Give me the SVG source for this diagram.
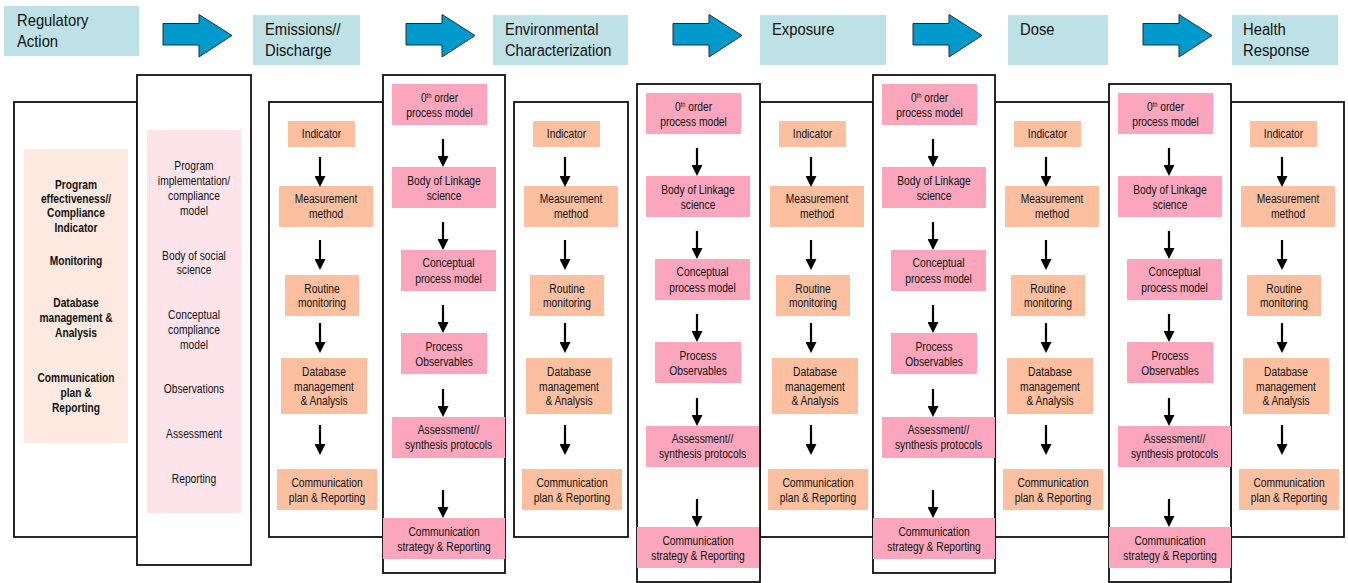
<svg xmlns="http://www.w3.org/2000/svg" width="1348" height="583" viewBox="0 0 1348 583">
  <style>
    text { font-family: "Liberation Sans", Arial, sans-serif; fill: #111; }
    .hdr { fill: #bde1e4; }
    .hdr-t { font-size: 17px; }
    .frame { fill: #fff; stroke: #111; stroke-width: 1.8; }
    .ind { fill: #fcbf9f; }
    .mod { fill: #fba6bc; }
    .soft-peach { fill: #fde9e0; }
    .soft-pink { fill: #fde4eb; }
    .t { font-size: 12.5px; text-anchor: middle; }
    .tb { font-size: 12px; font-weight: bold; text-anchor: middle; }
    .sup { font-size: 7px; }
    .blk { fill: #0099cc; stroke: #16323c; stroke-width: 1; }
    .arr { stroke: #000; stroke-width: 2.2; fill: none; marker-end: url(#ah); }
  </style>
  <defs>
    <marker id="ah" markerUnits="userSpaceOnUse" markerWidth="11" markerHeight="11" viewBox="0 0 11 11" refX="5" refY="5.5" orient="auto">
      <path d="M0,0 L11,5.5 L0,11 z" fill="#000"/>
    </marker>
    <!-- block arrow of the top flow row -->
    <polygon id="flow" class="blk" points="0,8.5 36,8.5 36,-0.5 69,20.5 36,42 36,30 0,30"/>

    <!-- node label sets, condensed horizontally to an Arial Narrow look -->
    <g id="lbl-indicator"><g transform="translate(52.5,0) scale(0.82,1)"><text class="t" x="0" y="138.5">Indicator</text></g></g>
    <g id="lbl-measurement"><g transform="translate(57,0) scale(0.82,1)"><text class="t" x="0" y="203.5">Measurement</text><text class="t" x="0" y="218.5">method</text></g></g>
    <g id="lbl-routine"><g transform="translate(53,0) scale(0.82,1)"><text class="t" x="0" y="293.5">Routine</text><text class="t" x="0" y="307.5">monitoring</text></g></g>
    <g id="lbl-database"><g transform="translate(55,0) scale(0.82,1)"><text class="t" x="0" y="376.5">Database</text><text class="t" x="0" y="391.5">management</text><text class="t" x="0" y="405.5">&amp; Analysis</text></g></g>
    <g id="lbl-commplan"><g transform="translate(58,0) scale(0.82,1)"><text class="t" x="0" y="487.5">Communication</text><text class="t" x="0" y="502.5">plan &amp; Reporting</text></g></g>

    <g id="lbl-zero"><g transform="translate(56.5,0) scale(0.82,1)"><text class="t" x="0" y="102.5">0<tspan class="sup" dy="-4">th</tspan><tspan dy="4"> order</tspan></text><text class="t" x="0" y="117.5">process model</text></g></g>
    <g id="lbl-linkage"><g transform="translate(61,0) scale(0.82,1)"><text class="t" x="0" y="185.5">Body of Linkage</text><text class="t" x="0" y="200.5">science</text></g></g>
    <g id="lbl-conceptual"><g transform="translate(65.5,0) scale(0.82,1)"><text class="t" x="0" y="267.5">Conceptual</text><text class="t" x="0" y="283.5">process model</text></g></g>
    <g id="lbl-observables"><g transform="translate(61,0) scale(0.82,1)"><text class="t" x="0" y="351.5">Process</text><text class="t" x="0" y="366.5">Observables</text></g></g>
    <g id="lbl-assessment"><g transform="translate(65.5,0) scale(0.82,1)"><text class="t" x="0" y="434.5">Assessment//</text><text class="t" x="0" y="449.5">synthesis protocols</text></g></g>
    <g id="lbl-commstrat"><g transform="translate(61,0) scale(0.82,1)"><text class="t" x="0" y="536.5">Communication</text><text class="t" x="0" y="551.5">strategy &amp; Reporting</text></g></g>
  </defs>

  <rect width="1348" height="583" fill="#fff"/>

  <!-- stage headers -->
  <g id="hdr-regulatory">
    <rect class="hdr" x="4" y="6" width="135" height="50"/>
    <g transform="translate(17,0) scale(0.87,1)"><text class="hdr-t" x="0" y="26">Regulatory</text><text class="hdr-t" x="0" y="47">Action</text></g>
  </g>
  <g id="hdr-emissions">
    <rect class="hdr" x="253" y="15" width="107" height="50"/>
    <g transform="translate(265,0) scale(0.87,1)"><text class="hdr-t" x="0" y="35">Emissions//</text><text class="hdr-t" x="0" y="56">Discharge</text></g>
  </g>
  <g id="hdr-environmental">
    <rect class="hdr" x="493" y="15" width="135" height="50"/>
    <g transform="translate(505,0) scale(0.86,1)"><text class="hdr-t" x="0" y="35">Environmental</text><text class="hdr-t" x="0" y="56">Characterization</text></g>
  </g>
  <g id="hdr-exposure">
    <rect class="hdr" x="760" y="15" width="126" height="50"/>
    <g transform="translate(772,0) scale(0.87,1)"><text class="hdr-t" x="0" y="35">Exposure</text></g>
  </g>
  <g id="hdr-dose">
    <rect class="hdr" x="1008" y="15" width="100" height="50"/>
    <g transform="translate(1020,0) scale(0.87,1)"><text class="hdr-t" x="0" y="35">Dose</text></g>
  </g>
  <g id="hdr-health">
    <rect class="hdr" x="1232" y="15" width="106" height="50"/>
    <g transform="translate(1243,0) scale(0.87,1)"><text class="hdr-t" x="0" y="35">Health</text><text class="hdr-t" x="0" y="56">Response</text></g>
  </g>

  <!-- regulatory program panels -->
  <g id="reg-effectiveness">
    <rect class="frame" x="14" y="102" width="123" height="435"/>
    <rect class="soft-peach" x="24" y="149" width="104" height="294"/>
    <g transform="translate(76,0) scale(0.85,1)">
      <text class="tb" x="0" y="189">Program</text>
      <text class="tb" x="0" y="203">effectiveness//</text>
      <text class="tb" x="0" y="217.5">Compliance</text>
      <text class="tb" x="0" y="232">Indicator</text>
      <text class="tb" x="0" y="265.5">Monitoring</text>
      <text class="tb" x="0" y="307.5">Database</text>
      <text class="tb" x="0" y="322.5">management &amp;</text>
      <text class="tb" x="0" y="337.5">Analysis</text>
      <text class="tb" x="0" y="382">Communication</text>
      <text class="tb" x="0" y="397">plan &amp;</text>
      <text class="tb" x="0" y="412">Reporting</text>
    </g>
  </g>
  <g id="reg-implementation">
    <rect class="frame" x="137" y="75" width="114" height="490"/>
    <rect class="soft-pink" x="147" y="130" width="94" height="383"/>
    <g transform="translate(194,0) scale(0.82,1)">
      <text class="t" x="0" y="170.5">Program</text>
      <text class="t" x="0" y="185">implementation/</text>
      <text class="t" x="0" y="200">compliance</text>
      <text class="t" x="0" y="215">model</text>
      <text class="t" x="0" y="260.5">Body of social</text>
      <text class="t" x="0" y="274.5">science</text>
      <text class="t" x="0" y="319.5">Conceptual</text>
      <text class="t" x="0" y="334.5">compliance</text>
      <text class="t" x="0" y="349.5">model</text>
      <text class="t" x="0" y="393.5">Observations</text>
      <text class="t" x="0" y="438.5">Assessment</text>
      <text class="t" x="0" y="483.5">Reporting</text>
    </g>
  </g>

  <!-- indicator columns, one per stage -->
  <g id="col-emissions" transform="translate(269,0)">
    <rect class="frame" x="0" y="102" width="114" height="435"/>
    <g id="emis-indicator"><rect class="ind" x="19" y="121" width="67" height="26"/><use href="#lbl-indicator"/></g>
    <g id="emis-measurement"><rect class="ind" x="10" y="186" width="94" height="41"/><use href="#lbl-measurement"/></g>
    <g id="emis-routine"><rect class="ind" x="16" y="275" width="74" height="41"/><use href="#lbl-routine"/></g>
    <g id="emis-database"><rect class="ind" x="12" y="358" width="86" height="56"/><use href="#lbl-database"/></g>
    <g id="emis-communication"><rect class="ind" x="8" y="469" width="100" height="41"/><use href="#lbl-commplan"/></g>
  </g>
  <g id="col-environmental" transform="translate(514,0)">
    <rect class="frame" x="0" y="102" width="114" height="435"/>
    <g id="env-indicator"><rect class="ind" x="19" y="121" width="67" height="26"/><use href="#lbl-indicator"/></g>
    <g id="env-measurement"><rect class="ind" x="10" y="186" width="94" height="41"/><use href="#lbl-measurement"/></g>
    <g id="env-routine"><rect class="ind" x="16" y="275" width="74" height="41"/><use href="#lbl-routine"/></g>
    <g id="env-database"><rect class="ind" x="12" y="358" width="86" height="56"/><use href="#lbl-database"/></g>
    <g id="env-communication"><rect class="ind" x="8" y="469" width="100" height="41"/><use href="#lbl-commplan"/></g>
  </g>
  <g id="col-exposure" transform="translate(760,0)">
    <rect class="frame" x="0" y="102" width="113" height="435"/>
    <g id="expo-indicator"><rect class="ind" x="19" y="121" width="67" height="26"/><use href="#lbl-indicator"/></g>
    <g id="expo-measurement"><rect class="ind" x="10" y="186" width="94" height="41"/><use href="#lbl-measurement"/></g>
    <g id="expo-routine"><rect class="ind" x="16" y="275" width="74" height="41"/><use href="#lbl-routine"/></g>
    <g id="expo-database"><rect class="ind" x="12" y="358" width="86" height="56"/><use href="#lbl-database"/></g>
    <g id="expo-communication"><rect class="ind" x="8" y="469" width="100" height="41"/><use href="#lbl-commplan"/></g>
  </g>
  <g id="col-dose" transform="translate(995,0)">
    <rect class="frame" x="0" y="102" width="114" height="435"/>
    <g id="dose-indicator"><rect class="ind" x="19" y="121" width="67" height="26"/><use href="#lbl-indicator"/></g>
    <g id="dose-measurement"><rect class="ind" x="10" y="186" width="94" height="41"/><use href="#lbl-measurement"/></g>
    <g id="dose-routine"><rect class="ind" x="16" y="275" width="74" height="41"/><use href="#lbl-routine"/></g>
    <g id="dose-database"><rect class="ind" x="12" y="358" width="86" height="56"/><use href="#lbl-database"/></g>
    <g id="dose-communication"><rect class="ind" x="8" y="469" width="100" height="41"/><use href="#lbl-commplan"/></g>
  </g>
  <g id="col-health" transform="translate(1231,0)">
    <rect class="frame" x="0" y="102" width="113" height="435"/>
    <g id="health-indicator"><rect class="ind" x="19" y="121" width="67" height="26"/><use href="#lbl-indicator"/></g>
    <g id="health-measurement"><rect class="ind" x="10" y="186" width="94" height="41"/><use href="#lbl-measurement"/></g>
    <g id="health-routine"><rect class="ind" x="16" y="275" width="74" height="41"/><use href="#lbl-routine"/></g>
    <g id="health-database"><rect class="ind" x="12" y="358" width="86" height="56"/><use href="#lbl-database"/></g>
    <g id="health-communication"><rect class="ind" x="8" y="469" width="100" height="41"/><use href="#lbl-commplan"/></g>
  </g>

  <!-- linkage (process model) columns between stages -->
  <g id="link-1" transform="translate(383,0)">
    <rect class="frame" x="0" y="75" width="122" height="498"/>
    <g id="l1-zero-order"><rect class="mod" x="9" y="84" width="95" height="41"/><use href="#lbl-zero"/></g>
    <g id="l1-linkage"><rect class="mod" x="9" y="167" width="104" height="41"/><use href="#lbl-linkage"/></g>
    <g id="l1-conceptual"><rect class="mod" x="18" y="250" width="95" height="41"/><use href="#lbl-conceptual"/></g>
    <g id="l1-observables"><rect class="mod" x="18" y="333" width="86" height="41"/><use href="#lbl-observables"/></g>
    <g id="l1-assessment"><rect class="mod" x="9" y="417" width="113" height="41"/><use href="#lbl-assessment"/></g>
    <g id="l1-communication"><rect class="mod" x="0" y="518" width="122" height="41"/><use href="#lbl-commstrat"/></g>
  </g>
  <g id="link-2" transform="translate(637,9)">
    <rect class="frame" x="0" y="75" width="123" height="498"/>
    <g id="l2-zero-order"><rect class="mod" x="9" y="84" width="95" height="41"/><use href="#lbl-zero"/></g>
    <g id="l2-linkage"><rect class="mod" x="9" y="167" width="104" height="41"/><use href="#lbl-linkage"/></g>
    <g id="l2-conceptual"><rect class="mod" x="18" y="250" width="95" height="41"/><use href="#lbl-conceptual"/></g>
    <g id="l2-observables"><rect class="mod" x="18" y="333" width="86" height="41"/><use href="#lbl-observables"/></g>
    <g id="l2-assessment"><rect class="mod" x="9" y="417" width="113" height="41"/><use href="#lbl-assessment"/></g>
    <g id="l2-communication"><rect class="mod" x="0" y="518" width="122" height="41"/><use href="#lbl-commstrat"/></g>
  </g>
  <g id="link-3" transform="translate(873,0)">
    <rect class="frame" x="0" y="75" width="122" height="498"/>
    <g id="l3-zero-order"><rect class="mod" x="9" y="84" width="95" height="41"/><use href="#lbl-zero"/></g>
    <g id="l3-linkage"><rect class="mod" x="9" y="167" width="104" height="41"/><use href="#lbl-linkage"/></g>
    <g id="l3-conceptual"><rect class="mod" x="18" y="250" width="95" height="41"/><use href="#lbl-conceptual"/></g>
    <g id="l3-observables"><rect class="mod" x="18" y="333" width="86" height="41"/><use href="#lbl-observables"/></g>
    <g id="l3-assessment"><rect class="mod" x="9" y="417" width="113" height="41"/><use href="#lbl-assessment"/></g>
    <g id="l3-communication"><rect class="mod" x="0" y="518" width="122" height="41"/><use href="#lbl-commstrat"/></g>
  </g>
  <g id="link-4" transform="translate(1109,9)">
    <rect class="frame" x="0" y="75" width="122" height="498"/>
    <g id="l4-zero-order"><rect class="mod" x="9" y="84" width="95" height="41"/><use href="#lbl-zero"/></g>
    <g id="l4-linkage"><rect class="mod" x="9" y="167" width="104" height="41"/><use href="#lbl-linkage"/></g>
    <g id="l4-conceptual"><rect class="mod" x="18" y="250" width="95" height="41"/><use href="#lbl-conceptual"/></g>
    <g id="l4-observables"><rect class="mod" x="18" y="333" width="86" height="41"/><use href="#lbl-observables"/></g>
    <g id="l4-assessment"><rect class="mod" x="9" y="417" width="113" height="41"/><use href="#lbl-assessment"/></g>
    <g id="l4-communication"><rect class="mod" x="0" y="518" width="122" height="41"/><use href="#lbl-commstrat"/></g>
  </g>

  <!-- connectors -->
  <g id="connectors">
    <g id="flow-arrows">
      <use href="#flow" x="163" y="15"/>
      <use href="#flow" x="406" y="15"/>
      <use href="#flow" x="673" y="15"/>
      <use href="#flow" x="913" y="15"/>
      <use href="#flow" x="1143" y="15"/>
    </g>
    <g id="indicator-arrows">
      <line class="arr" x1="320" y1="157" x2="320" y2="181"/><line class="arr" x1="320" y1="240" x2="320" y2="264"/><line class="arr" x1="320" y1="323" x2="320" y2="347"/><line class="arr" x1="320" y1="425" x2="320" y2="449"/>
      <line class="arr" x1="565" y1="157" x2="565" y2="181"/><line class="arr" x1="565" y1="240" x2="565" y2="264"/><line class="arr" x1="565" y1="323" x2="565" y2="347"/><line class="arr" x1="565" y1="425" x2="565" y2="449"/>
      <line class="arr" x1="811" y1="157" x2="811" y2="181"/><line class="arr" x1="811" y1="240" x2="811" y2="264"/><line class="arr" x1="811" y1="323" x2="811" y2="347"/><line class="arr" x1="811" y1="425" x2="811" y2="449"/>
      <line class="arr" x1="1046" y1="157" x2="1046" y2="181"/><line class="arr" x1="1046" y1="240" x2="1046" y2="264"/><line class="arr" x1="1046" y1="323" x2="1046" y2="347"/><line class="arr" x1="1046" y1="425" x2="1046" y2="449"/>
      <line class="arr" x1="1282" y1="157" x2="1282" y2="181"/><line class="arr" x1="1282" y1="240" x2="1282" y2="264"/><line class="arr" x1="1282" y1="323" x2="1282" y2="347"/><line class="arr" x1="1282" y1="425" x2="1282" y2="449"/>
    </g>
    <g id="linkage-arrows">
      <line class="arr" x1="443" y1="139" x2="443" y2="161"/><line class="arr" x1="443" y1="222" x2="443" y2="244"/><line class="arr" x1="443" y1="305" x2="443" y2="327"/><line class="arr" x1="443" y1="389" x2="443" y2="411"/><line class="arr" x1="443" y1="490" x2="443" y2="512"/>
      <line class="arr" x1="697" y1="148" x2="697" y2="170"/><line class="arr" x1="697" y1="231" x2="697" y2="253"/><line class="arr" x1="697" y1="314" x2="697" y2="336"/><line class="arr" x1="697" y1="398" x2="697" y2="420"/><line class="arr" x1="697" y1="499" x2="697" y2="521"/>
      <line class="arr" x1="933" y1="139" x2="933" y2="161"/><line class="arr" x1="933" y1="222" x2="933" y2="244"/><line class="arr" x1="933" y1="305" x2="933" y2="327"/><line class="arr" x1="933" y1="389" x2="933" y2="411"/><line class="arr" x1="933" y1="490" x2="933" y2="512"/>
      <line class="arr" x1="1169" y1="148" x2="1169" y2="170"/><line class="arr" x1="1169" y1="231" x2="1169" y2="253"/><line class="arr" x1="1169" y1="314" x2="1169" y2="336"/><line class="arr" x1="1169" y1="398" x2="1169" y2="420"/><line class="arr" x1="1169" y1="499" x2="1169" y2="521"/>
    </g>
  </g>
</svg>
